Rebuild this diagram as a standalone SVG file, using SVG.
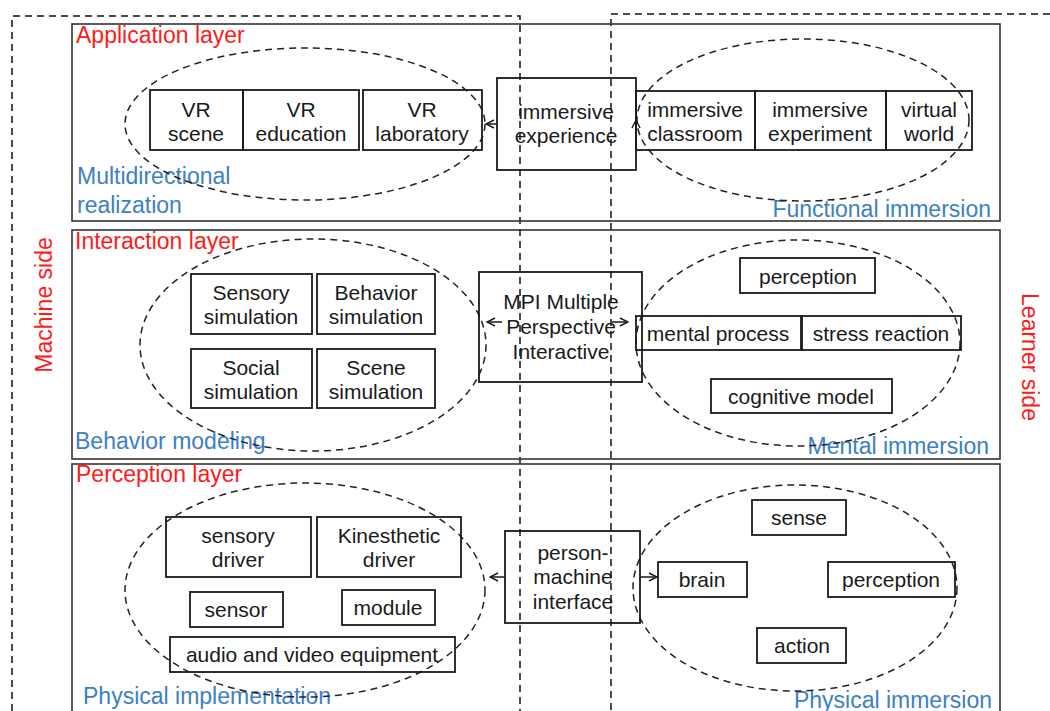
<svg xmlns="http://www.w3.org/2000/svg" width="1050" height="711" viewBox="0 0 1050 711">
<defs>
<style>
.layer{fill:none;stroke:#333;stroke-width:1.6}
.box{fill:none;stroke:#1a1a1a;stroke-width:1.8}
.ell{fill:none;stroke:#222;stroke-width:1.5;stroke-dasharray:7 5}
.side{fill:none;stroke:#111;stroke-width:1.5;stroke-dasharray:7 5}
.t{font-family:"Liberation Sans",Arial,sans-serif;font-size:21px;fill:#1a1a1a;text-anchor:middle}
.red{font-family:"Liberation Sans",Arial,sans-serif;font-size:23px;fill:#ff1a1a}
.blue{font-family:"Liberation Sans",Arial,sans-serif;font-size:23px;fill:#3d80c4}
.conn{fill:none;stroke:#1a1a1a;stroke-width:1.5}
</style>
<marker id="arr" viewBox="0 0 10 10" refX="9" refY="5" markerWidth="10" markerHeight="10" markerUnits="userSpaceOnUse" orient="auto-start-reverse">
<polyline points="1,1 9,5 1,9" fill="none" stroke="#1a1a1a" stroke-width="1.4"/>
</marker>
</defs>
<rect width="1050" height="711" fill="#fff"/>

<g id="sides">
<polyline class="side" points="12,711 12,16 520,16 520,711"/>
<polyline class="side" points="1050,14 611,14 611,711"/>
<text class="red" text-anchor="middle" transform="translate(52,305) rotate(-90)">Machine side</text>
<text class="red" text-anchor="middle" transform="translate(1022,357) rotate(90)">Learner side</text>
</g>

<g id="application-layer">
<rect class="layer" x="72" y="24" width="928" height="197"/>
<text class="red" x="76" y="43">Application layer</text>
<text class="blue" x="77" y="184">Multidirectional</text>
<text class="blue" x="77" y="213">realization</text>
<text class="blue" x="991" y="217" text-anchor="end">Functional immersion</text>
</g>
<g id="interaction-layer">
<rect class="layer" x="72" y="230" width="928" height="229"/>
<text class="red" x="75" y="249">Interaction layer</text>
<text class="blue" x="75" y="449">Behavior modeling</text>
<text class="blue" x="989" y="454" text-anchor="end">Mental immersion</text>
</g>
<g id="perception-layer">
<rect class="layer" x="72" y="464" width="928" height="260"/>
<text class="red" x="76" y="482">Perception layer</text>
<text class="blue" x="83" y="704">Physical implementation</text>
<text class="blue" x="992" y="708" text-anchor="end">Physical immersion</text>
</g>

<g id="ellipses">
<ellipse class="ell" cx="305" cy="124" rx="180" ry="76"/>
<ellipse class="ell" cx="803" cy="120" rx="166" ry="81"/>
<ellipse class="ell" cx="313" cy="345" rx="173" ry="106"/>
<ellipse class="ell" cx="798" cy="343" rx="162" ry="103"/>
<ellipse class="ell" cx="305" cy="590" rx="180" ry="107"/>
<ellipse class="ell" cx="795" cy="588" rx="162" ry="103"/>
</g>

<g id="vr-scene"><rect class="box" x="150" y="90" width="93" height="60"/><text class="t" x="196" y="117">VR</text><text class="t" x="196" y="141">scene</text></g>
<g id="vr-education"><rect class="box" x="243" y="90" width="116" height="60"/><text class="t" x="301" y="117">VR</text><text class="t" x="301" y="141">education</text></g>
<g id="vr-laboratory"><rect class="box" x="363" y="90" width="119" height="60"/><text class="t" x="422" y="117">VR</text><text class="t" x="422" y="141">laboratory</text></g>
<g id="immersive-experience"><rect class="box" x="497" y="78" width="139" height="92"/><text class="t" x="566" y="119">immersive</text><text class="t" x="566" y="143">experience</text></g>
<g id="immersive-classroom"><rect class="box" x="636" y="91" width="119" height="59"/><text class="t" x="695" y="117">immersive</text><text class="t" x="695" y="141">classroom</text></g>
<g id="immersive-experiment"><rect class="box" x="755" y="91" width="131" height="59"/><text class="t" x="820" y="117">immersive</text><text class="t" x="820" y="141">experiment</text></g>
<g id="virtual-world"><rect class="box" x="886" y="91" width="86" height="59"/><text class="t" x="929" y="117">virtual</text><text class="t" x="929" y="141">world</text></g>

<g id="sensory-simulation"><rect class="box" x="191" y="274" width="121" height="60"/><text class="t" x="251" y="300">Sensory</text><text class="t" x="251" y="324">simulation</text></g>
<g id="behavior-simulation"><rect class="box" x="317" y="274" width="118" height="60"/><text class="t" x="376" y="300">Behavior</text><text class="t" x="376" y="324">simulation</text></g>
<g id="social-simulation"><rect class="box" x="191" y="349" width="121" height="59"/><text class="t" x="251" y="375">Social</text><text class="t" x="251" y="399">simulation</text></g>
<g id="scene-simulation"><rect class="box" x="317" y="349" width="118" height="59"/><text class="t" x="376" y="375">Scene</text><text class="t" x="376" y="399">simulation</text></g>
<g id="mpi"><rect class="box" x="479" y="272" width="163" height="110"/><text class="t" x="561" y="309">MPI Multiple</text><text class="t" x="561" y="334">Perspective</text><text class="t" x="561" y="359">Interactive</text></g>
<g id="perception-m"><rect class="box" x="740" y="258" width="135" height="35"/><text class="t" x="808" y="284">perception</text></g>
<g id="mental-process"><rect class="box" x="636" y="316" width="165" height="34"/><text class="t" x="718" y="341">mental process</text></g>
<g id="stress-reaction"><rect class="box" x="802" y="316" width="159" height="34"/><text class="t" x="881" y="341">stress reaction</text></g>
<g id="cognitive-model"><rect class="box" x="711" y="379" width="181" height="34"/><text class="t" x="801" y="404">cognitive model</text></g>

<g id="sensory-driver"><rect class="box" x="166" y="517" width="145" height="60"/><text class="t" x="238" y="543">sensory</text><text class="t" x="238" y="567">driver</text></g>
<g id="kinesthetic-driver"><rect class="box" x="317" y="517" width="144" height="60"/><text class="t" x="389" y="543">Kinesthetic</text><text class="t" x="389" y="567">driver</text></g>
<g id="sensor"><rect class="box" x="190" y="592" width="93" height="35"/><text class="t" x="236" y="617">sensor</text></g>
<g id="module"><rect class="box" x="342" y="590" width="93" height="35"/><text class="t" x="388" y="615">module</text></g>
<g id="audio-video"><rect class="box" x="170" y="637" width="285" height="35"/><text class="t" x="312" y="662">audio and video equipment</text></g>
<g id="person-machine-interface"><rect class="box" x="505" y="531" width="135" height="92"/><text class="t" x="573" y="560">person-</text><text class="t" x="573" y="584">machine</text><text class="t" x="573" y="609">interface</text></g>
<g id="sense"><rect class="box" x="752" y="500" width="94" height="35"/><text class="t" x="799" y="525">sense</text></g>
<g id="brain"><rect class="box" x="658" y="562" width="89" height="35"/><text class="t" x="702" y="587">brain</text></g>
<g id="perception-p"><rect class="box" x="828" y="562" width="127" height="35"/><text class="t" x="891" y="587">perception</text></g>
<g id="action"><rect class="box" x="757" y="628" width="89" height="35"/><text class="t" x="802" y="653">action</text></g>

<g id="connectors">
<line class="conn" x1="497" y1="124" x2="486" y2="124" marker-end="url(#arr)"/>
<line class="conn" x1="636" y1="132" x2="636" y2="120" marker-end="url(#arr)"/>
<line class="conn" x1="502" y1="322" x2="487" y2="322" marker-end="url(#arr)"/>
<line class="conn" x1="612" y1="322" x2="628" y2="322" marker-end="url(#arr)"/>
<line class="conn" x1="505" y1="577" x2="490" y2="577" marker-end="url(#arr)"/>
<line class="conn" x1="640" y1="577" x2="657" y2="577" marker-end="url(#arr)"/>
</g>
</svg>
